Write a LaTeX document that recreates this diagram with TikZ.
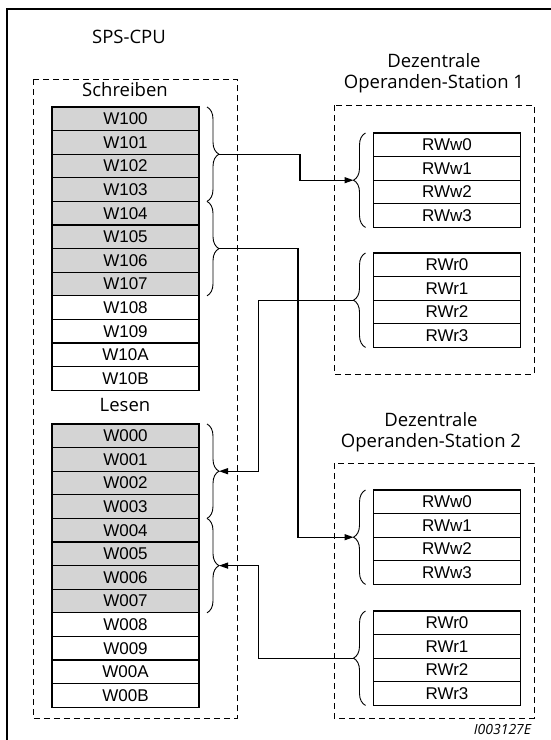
\documentclass[tikz,border=0pt]{standalone}
\usepackage{fontspec}
\setmainfont{Liberation Sans}
\newfontfamily\titelfont{Open Sans}
\usetikzlibrary{arrows.meta,decorations.pathreplacing}
\definecolor{zellgrau}{RGB}{212,212,212}

\begin{document}
\begin{tikzpicture}[x=1pt, y=-1pt,
			>={Triangle[length=9pt,width=6pt]}, line width=1pt,
			zelle/.style={draw, line width=1.2pt, minimum width=147pt, minimum height=23.6pt,
				inner sep=0pt, outer sep=0pt, font=\fontsize{17}{17}\selectfont},
			rahmen/.style={dash pattern=on 6pt off 4pt, line width=0.9pt},
			klammer/.style={decorate, decoration={brace, amplitude=12pt}, line width=0.9pt},
			pfeil/.style={->, line width=1.2pt},
			titel/.style={font=\titelfont\fontsize{18.5}{21}\selectfont, align=center}]
			
			\useasboundingbox (0,0) rectangle (550,740);
			
			\def\h{23.6}        %% altezza di una riga
			\def\xW{125.5}      %% centro colonna SPS
			\def\xR{447}        %% centro colonna stazioni
			
			%% --- cornice esterna (aperta a destra e in basso) ---
			\draw[line width=1.4pt] (7,750) -- (7,9) -- (560,9);
			
			%% --- riquadri tratteggiati ---
			\draw[rahmen] (33,79) rectangle (237,718);
			\draw[rahmen] (334,105) rectangle (534,374);
			\draw[rahmen] (334,463) rectangle (534,718);
			
			%% --- titoli ---
			\node[titel] (cpu) at (129,37) {SPS-CPU};
			\node[titel] (schreiben) at (125,90) {Schreiben};
			\node[titel] (lesen) at (125,405) {Lesen};
			\node[titel] (st1) at (434,73) {Dezentrale\\Operanden-Station 1};
			\node[titel] (st2) at (431,432) {Dezentrale\\Operanden-Station 2};
			
			%% --- registri SPS: Schreiben ---
			\foreach \lab [count=\i from 0] in {W100,W101,W102,W103,W104,W105,W106,W107}
				\node[zelle, fill=zellgrau] (s\i) at (\xW,{107+(\i+0.5)*\h}) {\lab};
			\foreach \lab [count=\i from 8] in {W108,W109,W10A,W10B}
				\node[zelle] (s\i) at (\xW,{107+(\i+0.5)*\h}) {\lab};
			
			%% --- registri SPS: Lesen ---
			\foreach \lab [count=\i from 0] in {W000,W001,W002,W003,W004,W005,W006,W007}
				\node[zelle, fill=zellgrau] (l\i) at (\xW,{424+(\i+0.5)*\h}) {\lab};
			\foreach \lab [count=\i from 8] in {W008,W009,W00A,W00B}
				\node[zelle] (l\i) at (\xW,{424+(\i+0.5)*\h}) {\lab};
			
			%% --- registri stazioni ---
			\foreach \i in {0,...,3} {
				\node[zelle] (aw\i) at (\xR,{133+(\i+0.5)*\h}) {RWw\i};
				\node[zelle] (ar\i) at (\xR,{253+(\i+0.5)*\h}) {RWr\i};
				\node[zelle] (bw\i) at (\xR,{490+(\i+0.5)*\h}) {RWw\i};
				\node[zelle] (br\i) at (\xR,{611+(\i+0.5)*\h}) {RWr\i};
			}
			
			%% --- graffe lato SPS ---
			\draw[klammer] ([xshift=8pt]s0.north east) -- ([xshift=8pt]s3.south east);
			\draw[klammer] ([xshift=8pt]s4.north east) -- ([xshift=8pt]s7.south east);
			\draw[klammer] ([xshift=8pt]l0.north east) -- ([xshift=8pt]l3.south east);
			\draw[klammer] ([xshift=8pt]l4.north east) -- ([xshift=8pt]l7.south east);
			%% --- graffe lato stazioni ---
			\draw[klammer] ([xshift=-8pt]aw3.south west) -- ([xshift=-8pt]aw0.north west);
			\draw[klammer] ([xshift=-8pt]ar3.south west) -- ([xshift=-8pt]ar0.north west);
			\draw[klammer] ([xshift=-8pt]bw3.south west) -- ([xshift=-8pt]bw0.north west);
			\draw[klammer] ([xshift=-8pt]br3.south west) -- ([xshift=-8pt]br0.north west);
			
			%% punte delle graffe
			\coordinate (ks1) at ([xshift=20pt]s1.south east);
			\coordinate (ks2) at ([xshift=20pt]s5.south east);
			\coordinate (kl1) at ([xshift=20pt]l1.south east);
			\coordinate (kl2) at ([xshift=20pt]l5.south east);
			\coordinate (kaw) at ([xshift=-20pt]aw1.south west);
			\coordinate (kar) at ([xshift=-20pt]ar1.south west);
			\coordinate (kbw) at ([xshift=-20pt]bw1.south west);
			\coordinate (kbr) at ([xshift=-20pt]br1.south west);
			
			%% --- collegamenti ---
			\draw[pfeil] (ks1) -- ++(81,0) |- (kaw);
			\draw[pfeil] (kar) -- ++(-95,0) |- (kl1);
			\draw[pfeil] (ks2) -- ++(79,0) |- (kbw);
			\draw[pfeil] (kbr) -- ++(-95,0) |- (kl2);
			
			%% --- numero figura ---
			\node[font=\titelfont\itshape\fontsize{14}{14}\selectfont, anchor=base east] (bildnr) at (535,734) {I003127E};
			
		\end{tikzpicture}
\end{document}
